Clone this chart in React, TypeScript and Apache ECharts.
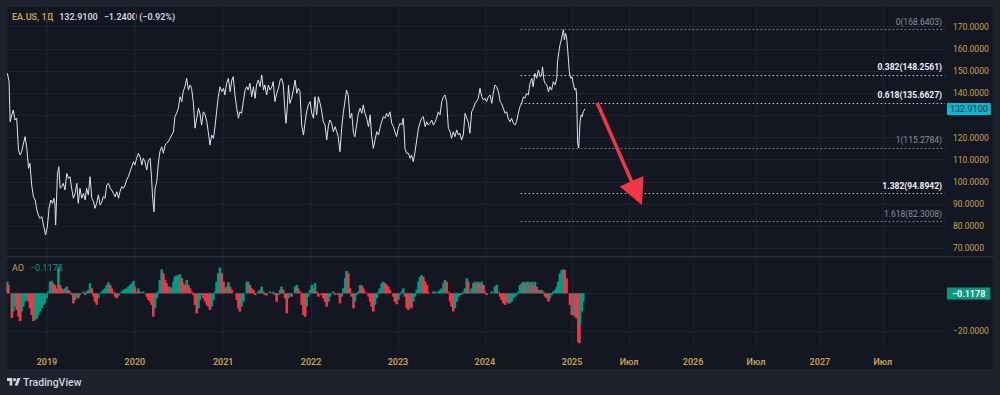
import React, { useEffect, useRef } from "react";
import * as echarts from "echarts";

// ---- data (x = trading-day index since the first bar, mid-2018) ----
const priceData: [number, number][] = [
  [0,149.0],[5,145.2],[8,127.1],[13,130.2],[17,132.4],[22,127.9],[27,128.7],[32,114.4],[37,112.1],[41,113.6],[51,120.4],[56,115.1],[61,106.1],[65,108.4],[70,98.6],[75,93.3],[80,91.8],[85,87.3],[89,85.0],[94,83.5],[99,84.3],[104,80.5],[110,76.0],[115,79.7],[120,88.0],[125,91.8],[130,90.3],[134,92.6],[137,89.5],[139,80.5],[144,103.1],[148,106.8],[152,97.1],[156,97.8],[161,99.3],[166,96.3],[171,103.8],[176,101.6],[180,102.3],[185,97.1],[190,92.6],[195,94.8],[200,99.3],[204,90.3],[209,97.1],[214,92.6],[219,94.8],[224,91.8],[228,97.1],[233,94.1],[238,102.3],[243,92.6],[248,91.0],[252,88.0],[257,90.3],[262,94.1],[267,89.5],[272,91.0],[276,93.3],[281,92.6],[286,98.6],[291,99.3],[296,97.1],[300,96.3],[305,94.8],[310,93.3],[315,95.5],[320,92.6],[324,95.5],[329,97.8],[334,97.1],[339,98.6],[343,100.8],[348,102.3],[353,104.6],[358,106.8],[363,109.1],[367,107.6],[372,110.6],[377,112.9],[382,111.3],[387,107.6],[391,110.6],[396,109.1],[401,105.3],[406,109.8],[411,110.6],
  [415,101.6],[418,92.6],[422,86.5],[425,97.1],[430,100.1],[434,107.6],[439,113.6],[444,115.8],[449,112.9],[454,116.6],[458,117.4],[463,118.1],[468,119.6],[473,121.1],[478,122.6],[482,129.4],[487,130.9],[492,133.2],[497,138.4],[502,136.2],[506,140.7],[511,142.9],[516,146.7],[521,141.4],[526,143.7],[530,142.2],[535,136.2],[540,124.2],[545,128.7],[550,133.2],[554,130.9],[559,125.6],[564,131.6],[569,130.2],[574,127.1],[578,122.6],[583,116.6],[588,121.1],[593,119.6],[598,125.6],[602,131.6],[607,138.4],[612,142.9],[617,140.7],[622,142.2],[626,139.2],[631,144.5],[636,146.7],[641,140.7],[646,145.9],[650,147.4],[655,139.2],[660,133.2],[665,128.7],[669,131.6],[674,130.9],[679,136.2],[684,141.4],[689,142.9],[693,141.4],[698,144.5],[703,138.4],[708,142.9],[713,137.7],[717,143.7],[722,145.9],[727,142.9],[732,148.2],[737,141.4],[741,143.7],[746,139.2],[751,143.7],[756,141.4],[761,142.9],[765,145.2],[770,136.2],[775,139.9],[780,142.2],[785,145.9],[789,146.7],[794,143.7],[799,131.6],[802,126.4],[806,134.7],[809,143.7],[813,135.4],[818,137.7],[823,141.4],[828,145.9],[833,139.9],[837,142.2],[842,140.7],
  [847,125.6],[852,121.1],[857,127.1],[861,131.6],[866,134.7],[871,136.2],[876,130.9],[881,128.7],[885,138.4],[890,130.2],[895,138.4],[900,135.4],[904,132.4],[909,127.1],[914,125.6],[919,118.9],[924,125.6],[928,127.9],[933,126.4],[938,122.6],[943,124.9],[948,122.6],[952,120.4],[957,113.6],[962,124.2],[967,131.6],[972,136.9],[976,141.4],[981,139.2],[986,128.7],[991,130.9],[996,121.9],[1000,120.4],[1005,125.6],[1010,130.9],[1015,133.2],[1020,130.9],[1024,134.7],[1029,130.9],[1034,128.7],[1039,124.9],[1044,130.2],[1048,121.1],[1053,115.1],[1058,118.9],[1063,122.6],[1068,121.1],[1072,124.2],[1077,127.1],[1082,129.4],[1087,128.7],[1091,130.9],[1096,129.4],[1101,131.6],[1106,126.4],[1111,124.9],[1115,122.6],[1120,120.4],[1125,124.2],[1130,126.4],[1135,125.6],[1139,128.7],[1142,122.6],[1144,115.1],[1149,112.9],[1154,112.9],[1159,110.6],[1163,112.1],[1168,109.1],[1173,113.6],[1178,118.9],[1183,124.2],[1187,126.4],[1192,128.7],[1197,129.4],[1202,124.9],[1207,127.1],[1211,125.6],[1216,126.4],[1221,127.9],[1226,125.6],[1231,127.1],[1235,128.7],[1240,131.6],[1245,130.2],[1250,136.2],[1255,138.4],[1259,139.2],[1264,136.2],[1269,124.2],[1274,122.6],
  [1278,119.6],[1283,122.6],[1288,120.4],[1293,123.4],[1298,121.1],[1302,121.9],[1307,118.9],[1312,121.1],[1317,130.9],[1322,128.7],[1326,127.1],[1331,121.9],[1336,131.6],[1341,133.2],[1346,135.4],[1350,136.2],[1355,137.7],[1360,142.2],[1365,138.4],[1370,136.9],[1374,137.7],[1379,136.2],[1384,138.4],[1389,139.2],[1394,135.4],[1398,139.9],[1403,143.7],[1408,142.9],[1413,140.7],[1418,136.2],[1422,135.4],[1427,133.2],[1432,130.9],[1437,131.6],[1441,128.7],[1446,127.1],[1451,128.7],[1456,126.4],[1461,125.6],[1465,127.1],[1470,130.9],[1475,133.9],[1480,135.4],[1485,138.4],[1489,137.7],[1494,139.9],[1499,139.2],[1504,144.5],[1509,146.7],[1513,142.9],[1518,149.0],[1523,146.7],[1528,150.5],[1533,147.4],[1537,148.2],[1540,151.9],[1544,145.9],[1547,144.5],[1552,143.7],[1557,140.7],[1561,142.9],[1566,141.4],[1571,145.2],[1576,143.7],[1581,146.7],[1583,154.2],[1587,158.7],[1590,161.7],[1595,164.8],[1600,168.64],[1603,164.0],[1606,167.0],[1609,165.5],[1612,160.3],[1617,149.7],[1621,146.7],[1625,147.4],[1628,144.5],[1633,141.4],[1636,142.2],[1638,139.2],[1641,117.4],[1644,115.28],[1648,127.1],[1651,130.2],[1654,129.4],[1657,131.6],[1662,132.91],
];

const aoData: [number, number][] = [
  [0,6.1],[3,4.4],[8,0],[13,-13],[17,-9.6],[22,-7],[27,-8.8],[32,-12.3],[37,-14.6],[41,-9.6],[46,-7],[51,-4.4],[56,-3.5],[61,-4.4],[65,-7.9],[70,-11.4],[75,-14.6],[80,-14],[85,-13.2],[89,-11.4],[94,-9.6],[99,-7.9],[104,-6.1],[108,-5.3],[113,-2.6],[118,0.9],[123,6.1],[128,6.5],[132,5.3],[137,4.4],[142,2.6],[147,13.5],[152,4.4],[156,2.6],[161,1.8],[166,2.6],[171,3.5],[176,1.8],[180,0.9],[185,-0.9],[190,-5.3],[195,-3.5],[200,-1.8],[204,-2.6],[209,-0.9],[214,0],[219,0.9],[224,-0.9],[228,0.9],[233,1.8],[238,5.3],[243,2.6],[248,-1.8],[252,-4.4],[257,-6.1],[262,-2.6],[267,0],[272,0.9],[276,1.8],[281,2.6],[286,4.4],[291,5.8],[296,4.4],[300,2.6],[305,0.9],[310,-1.8],[315,-2.6],[320,-1.2],[324,0],[329,0.9],[334,1.8],[339,2.3],[343,2.6],[348,3.5],[353,4.4],[358,5.3],[363,6.5],[367,3.5],[372,0.9],[377,2.6],[382,0.9],[387,0],[391,0.9],[396,0],[401,-1.8],[406,-3.5],[411,-4.4],
  [415,-6.1],[420,-12.3],[425,-7.9],[430,-2.6],[434,0.9],[439,7],[444,12.6],[449,10.5],[454,7],[458,5.3],[463,3.5],[468,3.5],[473,2.6],[478,6.1],[482,8.8],[487,9.3],[492,9.6],[497,10],[502,7.9],[506,5.3],[511,4.4],[516,7],[521,4.4],[526,2.6],[530,0.9],[535,-0.9],[540,-6.1],[545,-10.5],[550,-7.9],[554,-3.5],[559,-0.9],[564,-2.6],[569,-4.4],[574,-6.1],[578,-7],[583,-8.8],[588,-7],[593,-3.5],[598,0.9],[602,6.1],[607,10.5],[612,13.5],[617,10.5],[622,6.1],[626,2.6],[631,3.5],[636,5.8],[641,3.5],[646,1.8],[650,0],[655,0],[660,-3.5],[665,-7.9],[669,-9.6],[674,-7],[679,-4.4],[684,0],[689,6.1],[693,6.1],[698,4.4],[703,2.6],[708,1.8],[713,-0.9],[717,0],[722,0.9],[727,1.8],[732,3.5],[737,0.9],[741,-0.9],[746,-1.2],[751,0],[756,0.9],[761,0],[765,0.9],[770,-0.9],[775,-4.4],[780,-0.9],[785,1.8],[789,3.5],[794,1.8],[799,-2.6],[804,-10.5],[809,-2.6],[813,-0.9],[818,-1.8],[823,0],[828,3.5],[833,4.4],[837,2.6],[842,0.9],
  [847,-6.1],[852,-11.4],[857,-12.3],[861,-7],[866,-1.8],[871,1.8],[876,4.4],[881,2.6],[885,5.3],[890,0.9],[895,-1.8],[900,0],[904,-0.9],[909,-2.6],[914,-4.4],[919,-7],[924,-4.4],[928,-1.8],[933,0],[938,0.9],[943,-0.9],[948,0],[952,-0.9],[957,-5.3],[962,-1.8],[967,2.6],[972,7.9],[976,11.8],[981,10.5],[986,2.6],[991,-1.8],[996,-7.9],[1000,-4.4],[1005,-0.9],[1010,0.9],[1015,4.4],[1020,4],[1024,2.6],[1029,0.9],[1034,0],[1039,-1.8],[1044,-4.4],[1048,-7],[1053,-9.6],[1058,-6.1],[1063,-2.6],[1068,0.9],[1072,2.6],[1077,5.3],[1082,6.1],[1087,5.3],[1091,4.4],[1096,3.5],[1101,1.8],[1106,0],[1111,-1.8],[1115,-4.4],[1120,-5.8],[1125,-3.5],[1130,-0.9],[1135,0.9],[1139,2.6],[1144,-1.8],[1149,-7.9],[1154,-8.8],[1159,-7],[1163,-7.9],[1168,-4.4],[1173,-1.8],[1178,1.8],[1183,6.1],[1187,8.8],[1192,9.6],[1197,8.8],[1202,6.1],[1207,4.4],[1211,0.9],[1216,0],[1221,0],[1226,0.9],[1231,0.9],[1235,0],[1240,0.9],[1245,1.8],[1250,2.6],[1255,5.3],[1259,7],[1264,6.1],[1269,0.9],[1274,-4.4],
  [1278,-7],[1283,-9.6],[1288,-7.9],[1293,-4.4],[1298,-1.8],[1302,-0.9],[1307,-0.9],[1312,0.9],[1317,2.6],[1322,7.9],[1326,6.1],[1331,0.9],[1336,2.6],[1341,5.3],[1346,6.1],[1350,5.3],[1355,6.1],[1360,5.3],[1365,6.1],[1370,4.4],[1374,0.9],[1379,-0.9],[1384,0],[1389,0],[1394,0.9],[1398,0],[1403,3.5],[1408,4.4],[1413,0.9],[1418,-1.8],[1422,-3.5],[1427,-5.3],[1432,-6.1],[1437,-4.4],[1441,-5.3],[1446,-5.3],[1451,-4.4],[1456,-2.6],[1461,-1.8],[1465,-0.9],[1470,0.9],[1475,4.4],[1480,5.3],[1485,6.1],[1489,5.3],[1494,6.1],[1499,6.1],[1504,5.3],[1509,6.1],[1513,4.4],[1518,6.1],[1523,3.5],[1528,1.8],[1533,1.8],[1537,1.8],[1542,0.9],[1547,-1.8],[1552,-2.6],[1557,-4.4],[1561,-2.6],[1566,-0.9],[1571,0.9],[1576,1.8],[1581,3.5],[1585,6.1],[1590,10.5],[1595,12.3],[1600,12.6],[1604,12.3],[1609,7.9],[1614,0],[1619,-6.1],[1624,-11.4],[1628,-11.4],[1633,-12.3],[1638,-13.2],[1643,-25.4],[1646,-26.3],[1648,-16.7],[1653,-9.6],[1657,-4.4],[1662,-0.1178],
];

const xTickDays = [114, 367, 621, 874, 1124, 1374, 1625, 1789, 1973, 2154, 2338, 2519];
const xTickLabels = ["2019", "2020", "2021", "2022", "2023", "2024", "2025", "Июл", "2026", "Июл", "2027", "Июл"];
const priceGridValues = [70, 80, 90, 100, 110, 120, 130, 140, 150, 160, 170];
const priceLabelValues = [70, 80, 90, 100, 110, 120, 140, 150, 160, 170]; // 130 sits under the price tag
const aoGridValues = [-20, 0];
const aoLabelValues = [-20]; // 0 sits under the AO tag

const fibRatios = ["0", "0.382", "0.618", "1", "1.382", "1.618"];
const fibPrices = [168.6403, 148.2561, 135.6627, 115.2784, 94.8942, 82.3008];
const fibBold = [false, true, true, false, true, false];
const fibStartDay = 1477;

const arrowFrom: [number, number] = [1697, 135.66];
const arrowTo: [number, number] = [1811, 94.89];

const lastPrice = 132.91;
const lastChange = -1.24;
const lastChangePct = -0.92;
const lastAO = -0.1178;

const X_MIN = -1;
const X_MAX = 2698;
const PRICE_MIN = 66.53;
const PRICE_MAX = 178.89;
const AO_MIN = -29.84;
const AO_MAX = 18.58;

const FONT = 'Roboto, "Noto Sans", sans-serif';
const GOLD = "#c9a14f";
const GRID = "#1e2330";
const TEXT = "#d1d4dc";
const UP = "#089981";
const DOWN = "#f23645";
const CLEAR = "rgba(0,0,0,0)";

const minus = (s: string) => s.replace("-", "\u2212");
const fmt4 = (v: number) => minus(v.toFixed(4));

let registered = false;
function registerLogo() {
  if (registered) return;
  registered = true;
  echarts.graphic.registerShape(
    "tvlogo",
    echarts.graphic.extendPath(
      "M14 22H7V11H0V4h14v18zM28 22h-8l7.5-18h8L28 22zM16 8a4 4 0 1 0 8 0a4 4 0 1 0 -8 0z",
      {}
    )
  );
}

export default function App() {
  const ref = useRef<HTMLDivElement>(null);
  useEffect(() => {
    if (!ref.current) return;
    registerLogo();
    const chart = echarts.init(ref.current, null, { renderer: "svg" });

    const aoItems = aoData.map((p, i) => ({
      value: p,
      itemStyle: { color: i === 0 || p[1] >= aoData[i - 1][1] ? UP : DOWN },
    }));

    const fibLines = fibPrices.map((v, i) => [
      {
        coord: [fibStartDay, v],
        lineStyle: { color: fibBold[i] ? "#c3c6ce" : "#8a8d96", type: [1.5, 2.5], width: 1 },
        label: {
          show: true,
          position: "insideEndTop",
          distance: 3,
          formatter: `${fibRatios[i]}(${v.toFixed(4)})`,
          color: fibBold[i] ? "#eef0f5" : "#8a8d96",
          fontWeight: fibBold[i] ? 700 : 400,
          fontSize: 8.5,
          fontFamily: FONT,
        },
      },
      { coord: [X_MAX, v] },
    ]);

    const yAxisBase = (grid: number, min: number, max: number, gridVals: number[], labelVals: number[]) => ({
      type: "value",
      gridIndex: grid,
      position: "right",
      min,
      max,
      axisLine: { show: false },
      axisTick: { show: false, customValues: gridVals },
      axisLabel: {
        customValues: labelVals,
        formatter: (v: number) => fmt4(v),
        color: GOLD,
        fontSize: 8.5,
        margin: 8,
        fontFamily: FONT,
      },
      splitLine: { show: true, lineStyle: { color: GRID, width: 1 } },
    });

    const option: any = {
      animation: false,
      backgroundColor: "#131722",
      textStyle: { fontFamily: FONT },
      grid: [
        { left: 7, top: 7, width: 938, height: 249 },
        { left: 7, top: 258, width: 938, height: 92 },
      ],
      xAxis: [0, 1].map((g) => ({
        type: "value",
        gridIndex: g,
        min: X_MIN,
        max: X_MAX,
        axisLine: { show: false },
        axisTick: { show: false, customValues: xTickDays },
        axisLabel: {
          show: g === 1,
          customValues: xTickDays,
          formatter: (v: number) => xTickLabels[xTickDays.indexOf(v)] ?? "",
          color: GOLD,
          fontSize: 9,
          fontWeight: 600,
          margin: 7,
          fontFamily: FONT,
        },
        splitLine: { show: true, lineStyle: { color: GRID, width: 1 } },
      })),
      yAxis: [
        yAxisBase(0, PRICE_MIN, PRICE_MAX, priceGridValues, priceLabelValues),
        yAxisBase(1, AO_MIN, AO_MAX, aoGridValues, aoLabelValues),
      ],
      series: [
        {
          type: "line",
          xAxisIndex: 0,
          yAxisIndex: 0,
          data: priceData,
          showSymbol: false,
          symbol: "none",
          lineStyle: { color: "#e2e3e8", width: 1 },
          clip: true,
          z: 5,
          markLine: {
            silent: true,
            symbol: ["none", "none"],
            animation: false,
            data: [
              ...fibLines,
              [
                {
                  coord: arrowFrom,
                  symbol: "none",
                  lineStyle: { color: DOWN, width: 3.5, type: "solid" },
                  label: { show: false },
                },
                { coord: arrowTo, symbol: "triangle", symbolSize: [26, 26] },
              ],
              {
                yAxis: lastPrice,
                lineStyle: { color: CLEAR, width: 1 },
                label: {
                  show: true,
                  position: "end",
                  distance: 2,
                  formatter: lastPrice.toFixed(4),
                  backgroundColor: "#00bcd4",
                  color: "#131722",
                  padding: [2, 3, 1, 3],
                  fontSize: 9,
                  fontFamily: FONT,
                },
              },
            ],
          },
        },
        {
          type: "bar",
          xAxisIndex: 1,
          yAxisIndex: 1,
          data: aoItems,
          barWidth: 2.6,
          markLine: {
            silent: true,
            symbol: ["none", "none"],
            data: [
              {
                yAxis: lastAO,
                lineStyle: { color: CLEAR, width: 1 },
                label: {
                  show: true,
                  position: "end",
                  distance: 2,
                  formatter: fmt4(lastAO),
                  backgroundColor: UP,
                  color: "#ffffff",
                  padding: [2, 5, 1, 5],
                  fontSize: 9,
                  fontWeight: 600,
                  fontFamily: FONT,
                },
              },
            ],
          },
        },
      ],
      graphic: [
        { type: "rect", shape: { x: 0, y: 0, width: 1000, height: 7 }, style: { fill: "#1e222d" }, silent: true },
        { type: "rect", shape: { x: 0, y: 0, width: 7, height: 395 }, style: { fill: "#1e222d" }, silent: true },
        { type: "rect", shape: { x: 993, y: 0, width: 7, height: 395 }, style: { fill: "#1e222d" }, silent: true },
        { type: "rect", shape: { x: 0, y: 369, width: 1000, height: 26 }, style: { fill: "#1e222d" }, silent: true },
        { type: "rect", shape: { x: 7, y: 256, width: 986, height: 1.5 }, style: { fill: "#2a2e39" }, silent: true },
        {
          type: "text", x: 12, y: 17,
          style: {
            text: `{a|EA.US, 1Д}  {b|${lastPrice.toFixed(4)}}  {b|${minus(lastChange.toFixed(4))} (${minus(lastChangePct.toFixed(2))}%)}`,
            verticalAlign: "middle",
            fontFamily: FONT,
            rich: {
              a: { fill: GOLD, fontSize: 9, fontWeight: 600, fontFamily: FONT },
              b: { fill: TEXT, fontSize: 9, fontWeight: 600, fontFamily: FONT },
            },
          },
        },
        {
          type: "text", x: 12, y: 268,
          style: {
            text: `{a|AO}  {b|${fmt4(lastAO)}}`,
            verticalAlign: "middle",
            fontFamily: FONT,
            rich: {
              a: { fill: GOLD, fontSize: 9, fontFamily: FONT },
              b: { fill: UP, fontSize: 9, fontFamily: FONT },
            },
          },
        },
        {
          type: "tvlogo", x: 7, y: 376.3, scaleX: 0.38, scaleY: 0.42,
          style: { fill: TEXT },
        },
        {
          type: "text", x: 23, y: 382,
          style: { text: "TradingView", fill: TEXT, fontSize: 10.5, fontWeight: 500, fontFamily: FONT, verticalAlign: "middle" },
        },
      ],
    };

    chart.setOption(option);
    return () => chart.dispose();
  }, []);

  return (
    <div
      ref={ref}
      style={{ position: "fixed", left: 0, top: 0, width: 1000, height: 395 }}
    />
  );
}
